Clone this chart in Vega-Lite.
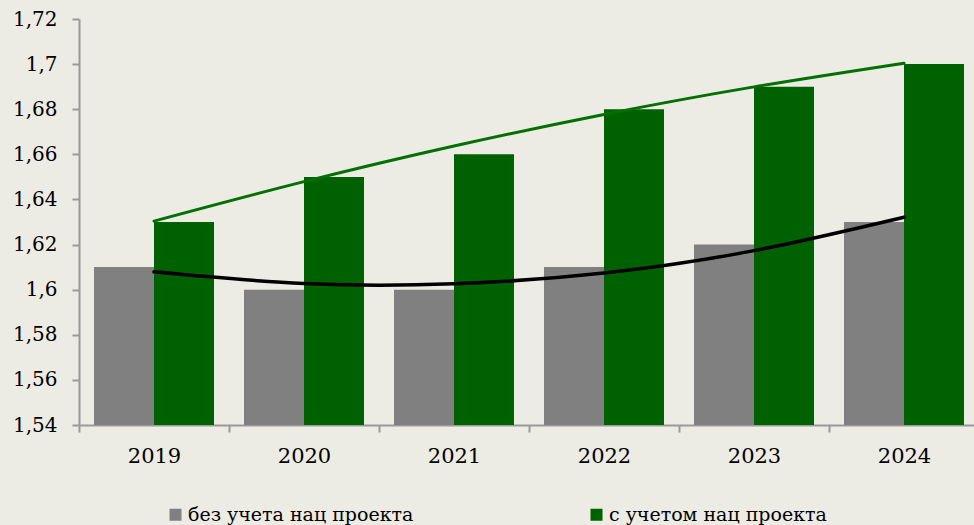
{
  "$schema": "https://vega.github.io/schema/vega-lite/v6.json",
  "autosize": {"type": "none"},
  "padding": {"left": 79, "top": 19, "right": 0, "bottom": 100},
  "width": 900,
  "height": 406,
  "background": "#ECEBE4",
  "config": {
    "view": {"stroke": null},
    "locale": {"number": {"decimal": ",", "thousands": " ", "grouping": [3], "currency": ["", ""]}},
    "font": "DejaVu Serif"
  },
  "datasets": {
    "bars": [
      {"year": "2019", "series": "без учета нац проекта", "value": 1.61},
      {"year": "2019", "series": "с учетом нац проекта", "value": 1.63},
      {"year": "2020", "series": "без учета нац проекта", "value": 1.60},
      {"year": "2020", "series": "с учетом нац проекта", "value": 1.65},
      {"year": "2021", "series": "без учета нац проекта", "value": 1.60},
      {"year": "2021", "series": "с учетом нац проекта", "value": 1.66},
      {"year": "2022", "series": "без учета нац проекта", "value": 1.61},
      {"year": "2022", "series": "с учетом нац проекта", "value": 1.68},
      {"year": "2023", "series": "без учета нац проекта", "value": 1.62},
      {"year": "2023", "series": "с учетом нац проекта", "value": 1.69},
      {"year": "2024", "series": "без учета нац проекта", "value": 1.63},
      {"year": "2024", "series": "с учетом нац проекта", "value": 1.70}
    ],
    "trend": [
      {"year": "2019", "trend": "gray", "value": 1.6079},
      {"year": "2020", "trend": "gray", "value": 1.6027},
      {"year": "2021", "trend": "gray", "value": 1.6026},
      {"year": "2022", "trend": "gray", "value": 1.6074},
      {"year": "2023", "trend": "gray", "value": 1.6173},
      {"year": "2024", "trend": "gray", "value": 1.6321},
      {"year": "2019", "trend": "green", "value": 1.6304},
      {"year": "2020", "trend": "green", "value": 1.6479},
      {"year": "2021", "trend": "green", "value": 1.6637},
      {"year": "2022", "trend": "green", "value": 1.6777},
      {"year": "2023", "trend": "green", "value": 1.6899},
      {"year": "2024", "trend": "green", "value": 1.7004}
    ]
  },
  "encoding": {
    "x": {
      "field": "year",
      "type": "nominal",
      "scale": {"paddingInner": 0, "paddingOuter": 0},
      "axis": {
        "title": null,
        "labelAngle": 0,
        "tickBand": "extent",
        "domainColor": "#9a9a9a",
        "domainWidth": 2,
        "tickColor": "#9a9a9a",
        "tickWidth": 2,
        "tickSize": 7,
        "labelPadding": 13,
        "labelFont": "DejaVu Serif",
        "labelFontSize": 21,
        "labelColor": "#000000"
      }
    },
    "y": {
      "type": "quantitative",
      "scale": {"domain": [1.54, 1.72], "zero": false, "nice": false},
      "axis": {
        "title": null,
        "values": [1.54, 1.56, 1.58, 1.6, 1.62, 1.64, 1.66, 1.68, 1.7, 1.72],
        "format": "~g",
        "grid": false,
        "domainColor": "#9a9a9a",
        "domainWidth": 2,
        "tickColor": "#9a9a9a",
        "tickWidth": 2,
        "tickSize": 7,
        "labelPadding": 15,
        "labelFont": "DejaVu Serif",
        "labelFontSize": 20,
        "labelColor": "#000000"
      }
    }
  },
  "layer": [
    {
      "data": {"name": "bars"},
      "mark": {"type": "bar"},
      "encoding": {
        "y": {"field": "value"},
        "y2": {"datum": 1.54},
        "xOffset": {
          "field": "series",
          "type": "nominal",
          "scale": {"paddingInner": 0, "paddingOuter": 0.25}
        },
        "color": {
          "field": "series",
          "type": "nominal",
          "scale": {
            "domain": ["без учета нац проекта", "с учетом нац проекта"],
            "range": ["#808080", "#006100"]
          },
          "legend": {
            "title": null,
            "orient": "none",
            "direction": "horizontal",
            "legendX": 87,
            "legendY": 486,
            "padding": 0,
            "columnPadding": 173,
            "symbolType": "square",
            "symbolSize": 144,
            "symbolStrokeWidth": 0,
            "labelOffset": 3,
            "labelFont": "DejaVu Serif",
            "labelFontSize": 19,
            "labelColor": "#000000",
            "labelLimit": 400
          }
        }
      }
    },
    {
      "data": {"name": "trend"},
      "mark": {"type": "line", "interpolate": "natural", "strokeCap": "round"},
      "encoding": {
        "y": {"field": "value"},
        "detail": {"field": "trend", "type": "nominal"},
        "stroke": {
          "field": "trend",
          "type": "nominal",
          "scale": {"domain": ["gray", "green"], "range": ["#000000", "#007000"]},
          "legend": null
        },
        "strokeWidth": {
          "field": "trend",
          "type": "nominal",
          "scale": {"domain": ["gray", "green"], "range": [3.5, 3]},
          "legend": null
        }
      }
    }
  ]
}
